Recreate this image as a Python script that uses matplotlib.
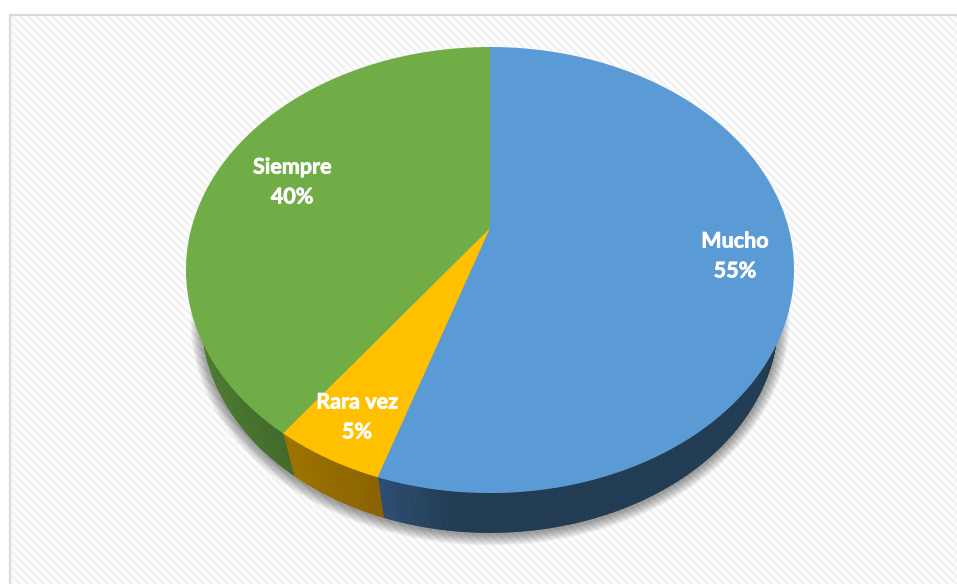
import numpy as np
import matplotlib
matplotlib.use("Agg")
import matplotlib.pyplot as plt
import matplotlib.patheffects as pe
from matplotlib.patches import Polygon

categories = ["Mucho", "Rara vez", "Siempre"]
values = [55, 5, 40]
top_colors = ["#5B9BD5", "#FFC000", "#70AD47"]
rim_left = ["#2E4F73", "#9E7300", "#4E7F31"]
rim_right = ["#223C54", "#8A6300", "#42692A"]
label_xy = [(735, 256), (357, 417), (292, 182)]

W, H = 957, 584
fig = plt.figure(figsize=(W / 100, H / 100), dpi=100, facecolor="white")
ax = fig.add_axes([0, 0, 1, 1])
ax.set_xlim(0, W)
ax.set_ylim(H, 0)
ax.axis("off")

# chart-area background: diagonal stripes with faint tile seams
yy, xx = np.mgrid[0:H, 0:W]
shade = 0.972 + 0.028 * np.cos(2 * np.pi * (xx - yy) / 8.0)
shade = shade * (1 - 0.012 * (((xx - 9) % 86) < 1)) * (1 - 0.012 * (((yy - 13) % 86) < 1))
shade[:15, :] = 1
shade[:, :10] = 1
ax.imshow(shade, cmap="gray", vmin=0, vmax=1, extent=(0, W, H, 0), aspect="auto",
          interpolation="nearest", zorder=0)
ax.plot([10, 10, W], [H, 15, 15], color="#D9D9D9", lw=1.6, zorder=1, solid_joinstyle="miter")
ax.set_xlim(0, W)
ax.set_ylim(H, 0)

# perspective projection of the pie disc
CX, APEX_Y = 490.0, 228.0
TOP_Y, BOTTOM_Y = 47.0, 493.0
k = (TOP_Y + BOTTOM_Y - 2 * APEX_Y) / (BOTTOM_Y - TOP_Y)
p = TOP_Y * (1 + k) - APEX_Y
A = 304.0 * np.sqrt(1 - k ** 2)


def top_face(theta):
    u, v = np.sin(theta), np.cos(theta)
    d = 1 + k * v
    return CX + A * u / d, (APEX_Y + p * v) / d


def lower_face(theta, grow=0.0, dy=0.0):
    x, y = top_face(theta)
    return CX + (0.947 + grow / 288) * (x - CX), 320 + dy + (0.955 + grow / 213) * (y - 270)


# soft shadow beneath the pie
full = np.linspace(0, 2 * np.pi, 361)
for g in range(11, 0, -1):
    sx, sy = lower_face(full, grow=g, dy=1.0)
    ax.fill(sx, sy, color="black", alpha=0.04, lw=0, zorder=2)

# silhouette of the rim: nothing may stick out past the lower face
lx_all, ly_all = lower_face(full)
rim_clip = Polygon(np.c_[lx_all, ly_all], closed=True, transform=ax.transData, fill=False, lw=0)
ax.add_patch(rim_clip)

# rim and top face, both derived from the values
edges = 2 * np.pi * np.cumsum([0] + values) / sum(values)
for i in range(len(values)):
    t0, t1 = edges[i], edges[i + 1]
    n = max(int(np.degrees(t1 - t0)), 2)
    ts = np.linspace(t0, t1, n + 1)
    xa, ya = top_face(ts)
    xb, yb = lower_face(ts)
    c0 = np.array(matplotlib.colors.to_rgb(rim_left[i]))
    c1 = np.array(matplotlib.colors.to_rgb(rim_right[i]))
    for j in range(n):
        if ya[j] < 270 and ya[j + 1] < 270:
            continue
        xm = (xb[j] + xb[j + 1]) / 2
        if i == 2:
            f = np.clip((xm - 200) / 95, 0, 1)
        elif i == 1:
            f = np.clip((xm - 293) / 90, 0, 1)
        else:
            f = np.clip((xm - 383) / 70, 0, 1)
        for patch in ax.fill([xa[j], xa[j + 1], xb[j + 1], xb[j]], [ya[j], ya[j + 1], yb[j + 1], yb[j]],
                             color=c0 + (c1 - c0) * f, lw=0.5, zorder=3):
            patch.set_clip_path(rim_clip)

for i in range(len(values)):
    ts = np.linspace(edges[i], edges[i + 1], 240)
    x, y = top_face(ts)
    ax.fill(np.r_[CX, x], np.r_[APEX_Y, y], color=top_colors[i], lw=0, zorder=4)

for cat, val, (lx, ly) in zip(categories, values, label_xy):
    ax.text(lx, ly, f"{cat}\n{val}%", color="white", fontsize=15.5, fontweight="bold",
            family=["Lato", "DejaVu Sans"], ha="center", va="center",
            linespacing=1.52, zorder=5,
            path_effects=[pe.withStroke(linewidth=0.5, foreground="white")])

fig.savefig("out.png", dpi=100, facecolor="white")
